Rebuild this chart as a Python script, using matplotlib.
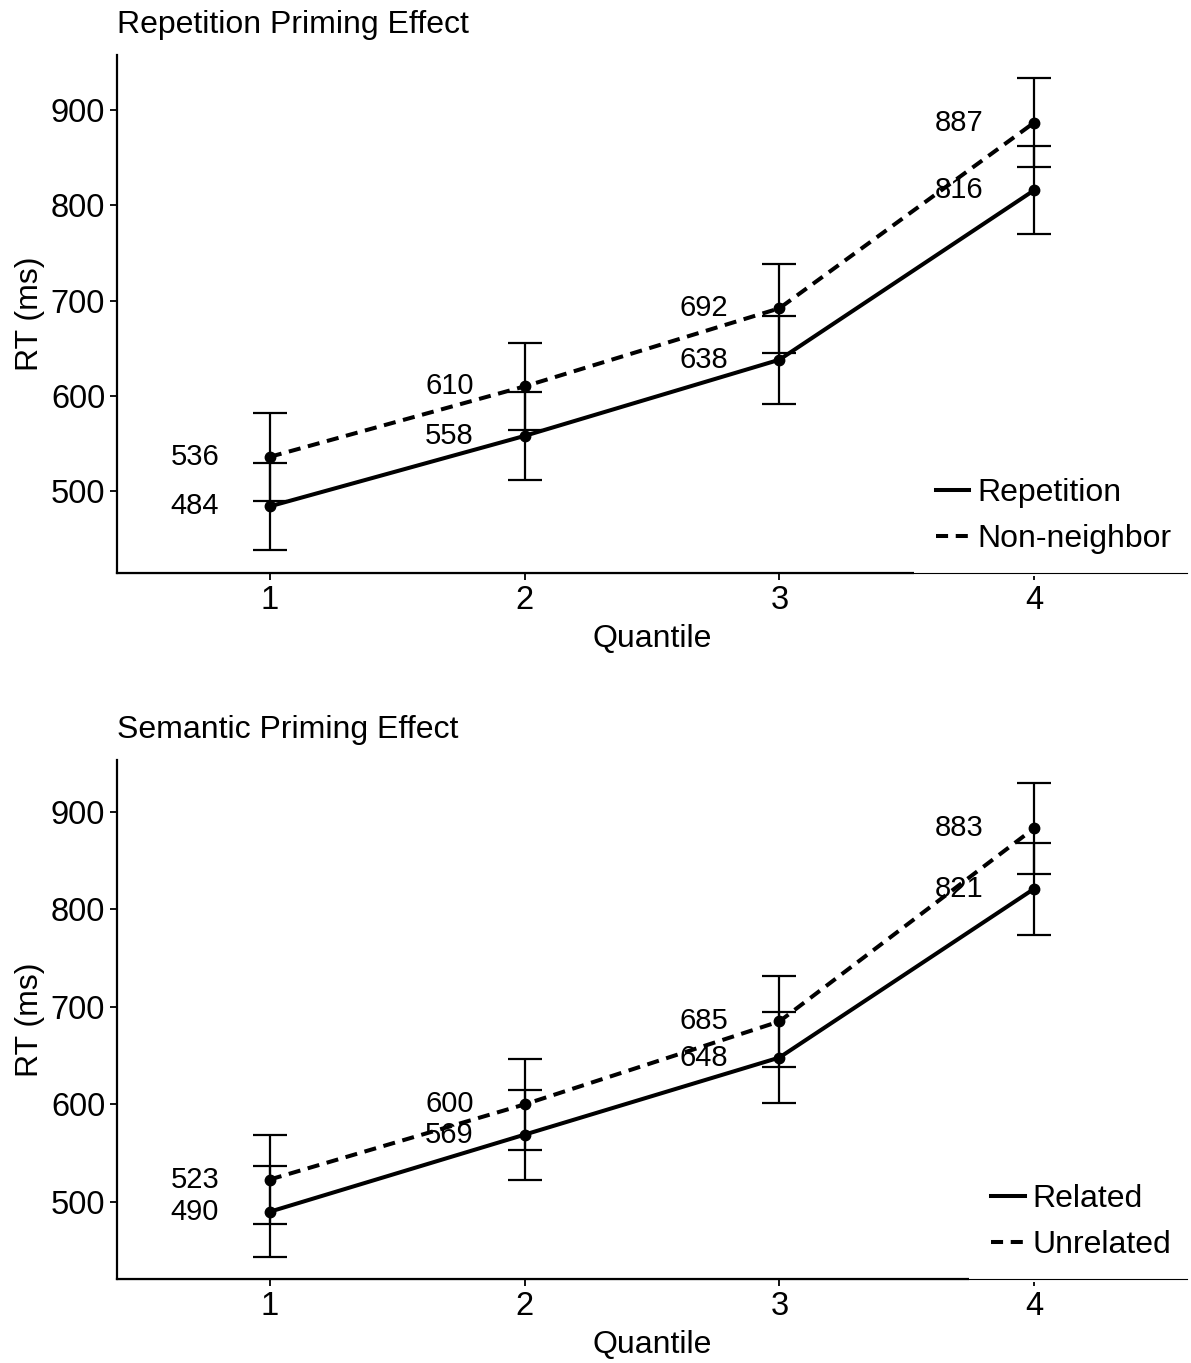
import matplotlib.pyplot as plt
from matplotlib.lines import Line2D

plt.rcParams['font.family'] = ['Liberation Sans', 'DejaVu Sans']

# data
quantile = [1, 2, 3, 4]

rep_rt = [484, 558, 638, 816]
rep_err = [46, 46, 46, 46]
nonneigh_rt = [536, 610, 692, 887]
nonneigh_err = [46.5, 46, 46.5, 47]

rel_rt = [490, 569, 648, 821]
rel_err = [46.5, 46, 46.5, 47]
unrel_rt = [523, 600, 685, 883]
unrel_err = [46, 46.5, 46.5, 46.5]

DASH = (0, (3, 1.9))


def panel(ax, title, solid, solid_err, solid_lab, dashed, dashed_err, dashed_lab, ylim):
    ax.errorbar(quantile, solid, yerr=solid_err, color='black', lw=2.9,
                marker='o', ms=7.5, elinewidth=1.6, capsize=12, capthick=1.6)
    ax.errorbar(quantile, dashed, yerr=dashed_err, color='black', lw=2.9,
                ls=DASH, marker='o', ms=7.5, elinewidth=1.6,
                capsize=12, capthick=1.6)
    for x, v in zip(quantile, solid):
        ax.text(x - 0.295, v, str(v), ha='center', va='center', fontsize=21)
    for x, v in zip(quantile, dashed):
        ax.text(x - 0.295, v, str(v), ha='center', va='center', fontsize=21)

    ax.set_xlim(0.4, 4.6)
    ax.set_ylim(*ylim)
    ax.set_xticks(quantile)
    ax.set_yticks([500, 600, 700, 800, 900])
    ax.tick_params(labelsize=23.5, length=5, width=1.3, colors='black')
    ax.set_xlabel('Quantile', fontsize=23, labelpad=6)
    ax.set_ylabel('RT (ms)', fontsize=23, labelpad=4)
    ax.set_title(title, loc='left', fontsize=23, pad=16)
    for s in ['top', 'right']:
        ax.spines[s].set_visible(False)
    for s in ['left', 'bottom']:
        ax.spines[s].set_linewidth(1.6)

    h = [Line2D([], [], color='black', lw=2.9),
         Line2D([], [], color='black', lw=2.9, ls=DASH)]
    leg = ax.legend(h, [solid_lab, dashed_lab], loc='lower right',
                    bbox_to_anchor=(1.0065, -0.006),
                    fontsize=23, frameon=True, fancybox=False, framealpha=1,
                    edgecolor='white', handlelength=1.05, handletextpad=0.25,
                    labelspacing=0.5, borderaxespad=0, borderpad=0.7)
    leg.get_frame().set_linewidth(0)
    ax.axhline(ylim[0], color='black', lw=0.8, zorder=6, clip_on=False)


fig = plt.figure(figsize=(11.91, 13.63), dpi=100)
ax1 = fig.add_axes([0.0982, 0.5796, 0.8984, 0.38])
ax2 = fig.add_axes([0.0982, 0.0616, 0.8984, 0.3808])

panel(ax1, 'Repetition Priming Effect', rep_rt, rep_err, 'Repetition',
      nonneigh_rt, nonneigh_err, 'Non-neighbor', (414, 958))
panel(ax2, 'Semantic Priming Effect', rel_rt, rel_err, 'Related',
      unrel_rt, unrel_err, 'Unrelated', (421, 953))

fig.savefig('out.png', dpi=100)
